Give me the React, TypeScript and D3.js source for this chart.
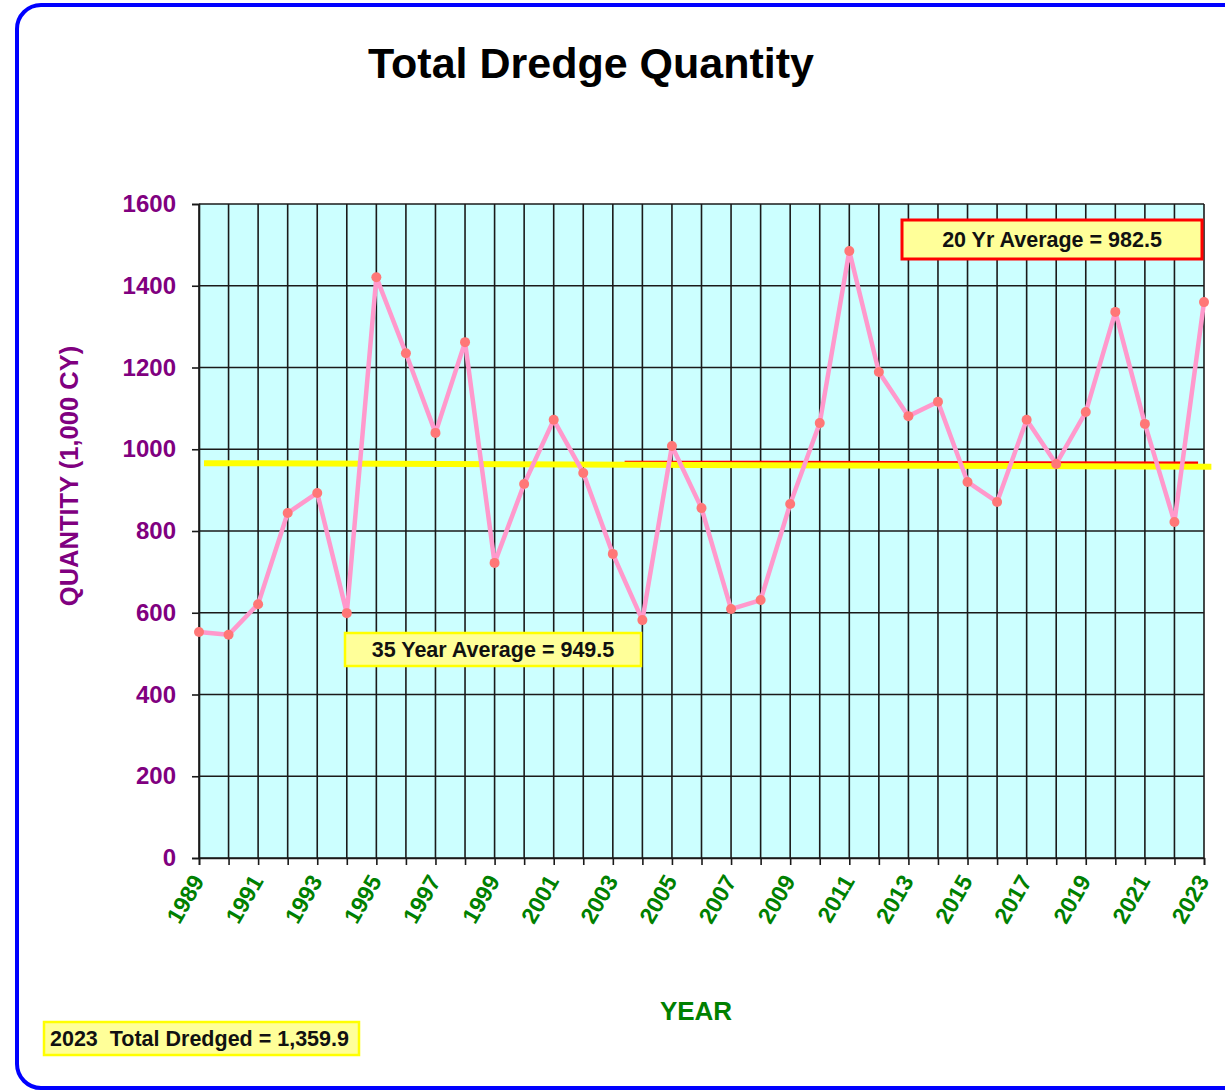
import React, { useEffect, useRef } from "react";
import * as d3 from "d3";

const years = d3.range(1989, 2024);
const quantity = [
  553, 546, 621, 844, 893, 599, 1421, 1235, 1040, 1262, 722, 915, 1072, 942, 744, 582,
  1008, 856, 609, 631, 866, 1064, 1485, 1189, 1081, 1116, 920, 871, 1072, 964, 1091,
  1336, 1062, 822, 1360,
];
const yTicks = [0, 200, 400, 600, 800, 1000, 1200, 1400, 1600];
const xLabelYears = years.filter((y) => (y - 1989) % 2 === 0);
// drawn average lines, as they sit in the picture
const longAvgLine = [966, 957];
const shortAvgLine = [969, 967];

const FONT = "'Liberation Sans', Arial, sans-serif";

export default function App() {
  const svgRef = useRef<SVGSVGElement>(null);

  useEffect(() => {
    const svg = d3.select(svgRef.current);
    svg.selectAll("*").remove();

    const x = d3.scaleLinear().domain([1989, 2023]).range([199, 1204]);
    const y = d3.scaleLinear().domain([0, 1600]).range([858, 204]);

    // outer frame
    svg
      .append("rect")
      .attr("x", 17)
      .attr("y", 5)
      .attr("width", 1260)
      .attr("height", 1083)
      .attr("rx", 24)
      .attr("fill", "white")
      .attr("stroke", "#0000ff")
      .attr("stroke-width", 4);

    // title
    svg
      .append("text")
      .attr("x", 591)
      .attr("y", 78)
      .attr("text-anchor", "middle")
      .attr("font-family", FONT)
      .attr("font-weight", "bold")
      .attr("font-size", 43)
      .attr("fill", "black")
      .text("Total Dredge Quantity");

    // plot background
    svg
      .append("rect")
      .attr("x", x(1989))
      .attr("y", y(1600))
      .attr("width", x(2023) - x(1989))
      .attr("height", y(0) - y(1600))
      .attr("fill", "#ccffff");

    // grid
    const grid = svg.append("g").attr("stroke", "#1a1a1a").attr("stroke-width", 1.6);
    years.forEach((yr) => {
      grid
        .append("line")
        .attr("x1", x(yr))
        .attr("x2", x(yr))
        .attr("y1", y(1600))
        .attr("y2", y(0));
    });
    yTicks.forEach((t) => {
      grid
        .append("line")
        .attr("x1", x(1989))
        .attr("x2", x(2023))
        .attr("y1", y(t))
        .attr("y2", y(t));
    });

    // Eje Y
    const yAxisG = svg
      .append("g")
      .attr("transform", `translate(${x(1989)},0)`)
      .call(
        d3
          .axisLeft(y)
          .tickValues(yTicks)
          .tickSize(7)
          .tickPadding(16)
          .tickFormat(d3.format("d"))
      );
    yAxisG.selectAll("line").attr("stroke", "#1a1a1a").attr("stroke-width", 1.6);
    yAxisG.select("path").attr("stroke", "#1a1a1a").attr("stroke-width", 1.6);
    yAxisG
      .selectAll("text")
      .attr("font-family", FONT)
      .attr("font-weight", "bold")
      .attr("font-size", 24)
      .attr("fill", "#800080");

    // Eje X
    const xAxisG = svg
      .append("g")
      .attr("transform", `translate(0,${y(0)})`)
      .call(d3.axisBottom(x).tickValues(years).tickSize(7).tickFormat(() => ""));
    xAxisG.selectAll("line").attr("stroke", "#1a1a1a").attr("stroke-width", 1.6);
    xAxisG.select("path").attr("stroke", "#1a1a1a").attr("stroke-width", 1.6);

    svg
      .append("g")
      .selectAll("text")
      .data(xLabelYears)
      .enter()
      .append("text")
      .attr("transform", (d) => `translate(${x(d) - 1},${y(0) + 19}) rotate(-60)`)
      .attr("text-anchor", "end")
      .attr("dy", "0.35em")
      .attr("font-family", FONT)
      .attr("font-weight", "bold")
      .attr("font-size", 23)
      .attr("fill", "#008000")
      .text((d) => d);

    // axis titles
    svg
      .append("text")
      .attr("transform", `translate(78,476) rotate(-90)`)
      .attr("text-anchor", "middle")
      .attr("font-family", FONT)
      .attr("font-weight", "bold")
      .attr("font-size", 25.5)
      .attr("fill", "#800080")
      .text("QUANTITY (1,000 CY)");

    svg
      .append("text")
      .attr("x", 696)
      .attr("y", 1020)
      .attr("text-anchor", "middle")
      .attr("font-family", FONT)
      .attr("font-weight", "bold")
      .attr("font-size", 26)
      .attr("fill", "#008000")
      .text("YEAR");

    // average lines
    svg
      .append("line")
      .attr("x1", x(2003.4))
      .attr("x2", x(2022.8))
      .attr("y1", y(shortAvgLine[0]))
      .attr("y2", y(shortAvgLine[1]))
      .attr("stroke", "#ff0000")
      .attr("stroke-width", 2.5);

    svg
      .append("line")
      .attr("x1", x(1989.17))
      .attr("x2", x(2023.25))
      .attr("y1", y(longAvgLine[0]))
      .attr("y2", y(longAvgLine[1]))
      .attr("stroke", "#ffff00")
      .attr("stroke-width", 6);

    // data line
    const pts = years.map((yr, i) => ({ year: yr, value: quantity[i] }));
    const line = d3
      .line<{ year: number; value: number }>()
      .x((d) => x(d.year))
      .y((d) => y(d.value));

    svg
      .append("path")
      .datum(pts)
      .attr("d", line)
      .attr("fill", "none")
      .attr("stroke", "#ff99cc")
      .attr("stroke-width", 4.5)
      .attr("stroke-linejoin", "round");

    svg
      .append("g")
      .selectAll("circle")
      .data(pts)
      .enter()
      .append("circle")
      .attr("cx", (d) => x(d.year))
      .attr("cy", (d) => y(d.value))
      .attr("r", 5)
      .attr("fill", "#ff7777");

    // labels
    const addBox = (
      bx: number,
      by: number,
      bw: number,
      bh: number,
      stroke: string,
      sw: number,
      label: string,
      anchor: "middle" | "start"
    ) => {
      svg
        .append("rect")
        .attr("x", bx)
        .attr("y", by)
        .attr("width", bw)
        .attr("height", bh)
        .attr("fill", "#ffff99")
        .attr("stroke", stroke)
        .attr("stroke-width", sw);
      svg
        .append("text")
        .attr("x", anchor === "middle" ? bx + bw / 2 : bx + 6)
        .attr("y", by + bh / 2)
        .attr("dy", "0.36em")
        .attr("text-anchor", anchor)
        .attr("font-family", FONT)
        .attr("font-weight", "bold")
        .attr("font-size", 21.5)
        .attr("fill", "#111")
        .style("white-space", "pre")
        .text(label);
    };

    addBox(902, 220, 300, 39, "#ff0000", 3, "20 Yr Average = 982.5", "middle");
    addBox(345, 633, 296, 33, "#ffff00", 2.5, "35 Year Average = 949.5", "middle");
    addBox(44, 1022, 315, 33, "#ffff00", 2.5, "2023  Total Dredged = 1,359.9", "start");
  }, []);

  return (
    <svg
      ref={svgRef}
      width={1225}
      height={1091}
      style={{ position: "absolute", left: 0, top: 0 }}
    />
  );
}
